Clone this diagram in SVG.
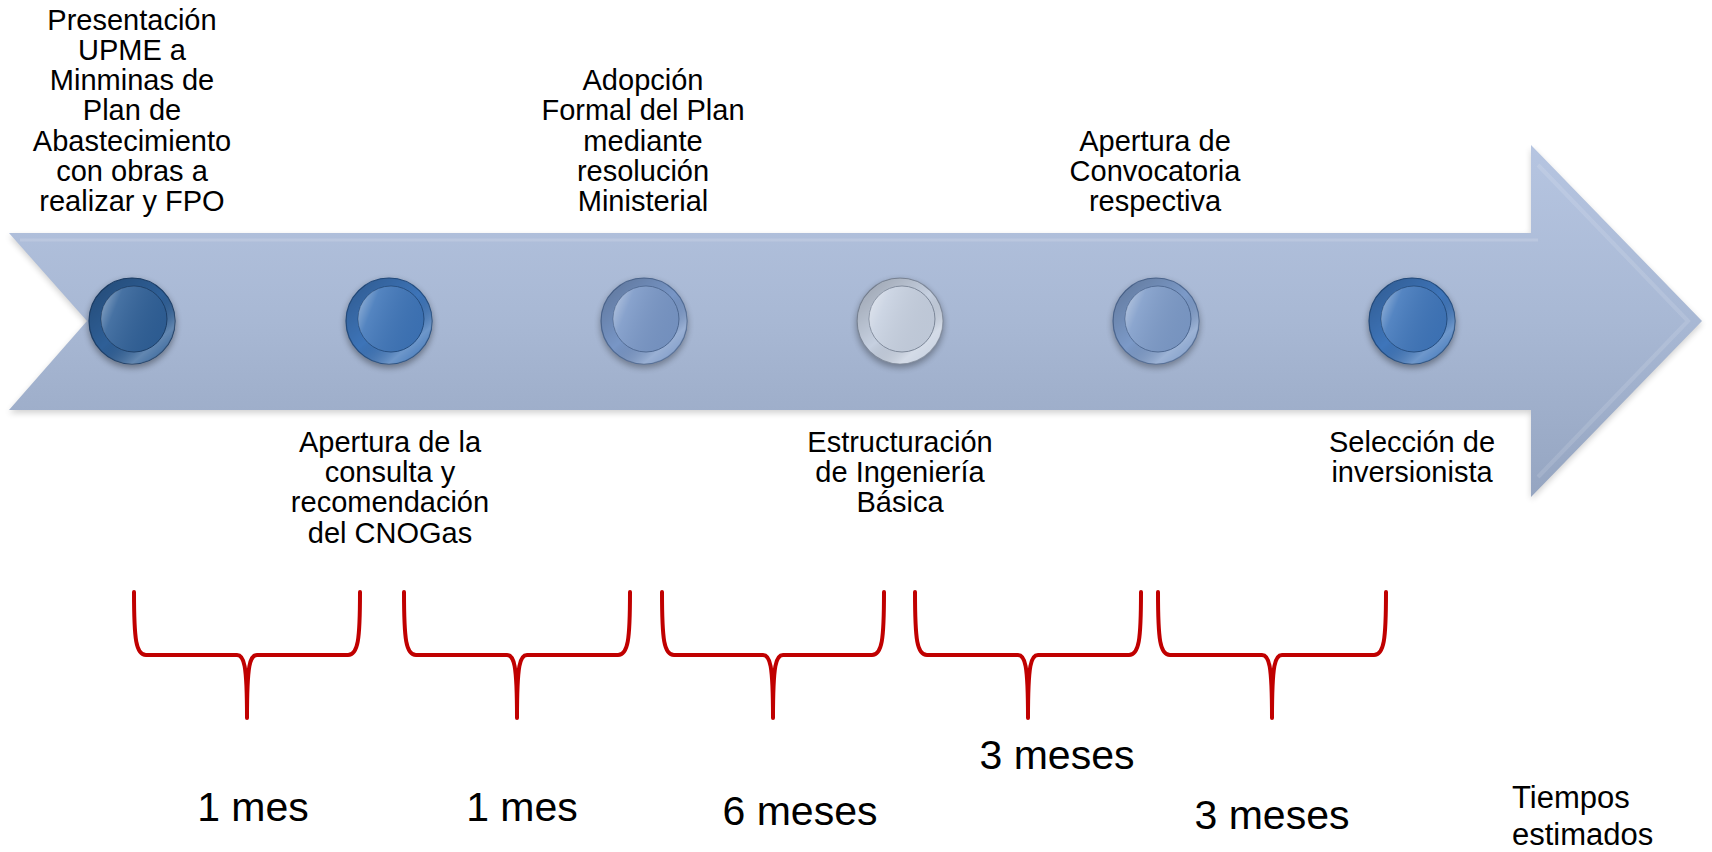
<svg xmlns="http://www.w3.org/2000/svg" width="1712" height="852" viewBox="0 0 1712 852">
  <defs>
    <linearGradient id="arrowFill" x1="0" y1="0" x2="0" y2="1">
      <stop offset="0" stop-color="#B6C5E1"/>
      <stop offset="0.5" stop-color="#A8B8D4"/>
      <stop offset="1" stop-color="#95A5C1"/>
    </linearGradient>
    <linearGradient id="ringShade" x1="0.15" y1="0.1" x2="0.85" y2="0.9">
      <stop offset="0" stop-color="#000" stop-opacity="0.18"/>
      <stop offset="0.5" stop-color="#000" stop-opacity="0"/>
      <stop offset="0.85" stop-color="#fff" stop-opacity="0.25"/>
      <stop offset="1" stop-color="#fff" stop-opacity="0.1"/>
    </linearGradient>
    <linearGradient id="innerShade" x1="0" y1="0.3" x2="1" y2="0.7">
      <stop offset="0" stop-color="#fff" stop-opacity="0.4"/>
      <stop offset="0.2" stop-color="#fff" stop-opacity="0.12"/>
      <stop offset="1" stop-color="#000" stop-opacity="0.04"/>
    </linearGradient>
    <filter id="shadow" x="-30%" y="-30%" width="160%" height="160%">
      <feGaussianBlur stdDeviation="3"/>
    </filter>
    <filter id="arrowShadow" x="-5%" y="-10%" width="110%" height="130%">
      <feGaussianBlur stdDeviation="3"/>
    </filter>
  </defs>
  <style>
    .t { font-family: "Liberation Sans", Arial, sans-serif; fill: #000; text-anchor: middle; }
    .s { font-size: 29px; }
    .b { font-size: 41px; }
    .n { font-size: 31px; text-anchor: start; }
    .brace { fill: none; stroke: #C00000; stroke-width: 4; stroke-linecap: round; stroke-linejoin: round; }
    .rim { stroke-width: 1.2; }
    .c1 { fill: #2E5F97; stroke: #1C3F69; }
    .c2 { fill: #3D74B8; stroke: #244E82; }
    .c3 { fill: #7896C6; stroke: #4F6A94; }
    .c4 { fill: #C6D0E0; stroke: #7F8A9C; }
    .c5 { fill: #7C9AC8; stroke: #4F6A94; }
    .c6 { fill: #3E75BA; stroke: #244E82; }
  </style>

  <rect width="1712" height="852" fill="#fff"/>

  <g id="arrow">
    <polygon points="9,236 1531,236 1531,148 1702,324 1531,500 1531,413 9,413 87,324" fill="#000" opacity="0.18" filter="url(#arrowShadow)"/>
    <polygon points="9,233 1531,233 1531,145 1702,321 1531,497 1531,410 9,410 87,321" fill="url(#arrowFill)"/>
    <polyline points="20,240 1538,240" stroke="#fff" stroke-opacity="0.15" stroke-width="3" fill="none"/>
    <polyline points="1538,165 1688,321 1538,477" stroke="#fff" stroke-opacity="0.12" stroke-width="4" fill="none"/>
  </g>

  <g id="node1">
    <circle cx="132" cy="324" r="44" fill="#000" opacity="0.35" filter="url(#shadow)"/>
    <circle class="c1 rim" cx="132" cy="321" r="43"/>
    <circle cx="132" cy="321" r="43" fill="url(#ringShade)"/>
    <circle class="c1" cx="134" cy="319" r="33" stroke="none"/>
    <circle cx="134" cy="319" r="33" fill="url(#innerShade)"/>
  </g>
  <g id="node2">
    <circle cx="389" cy="324" r="44" fill="#000" opacity="0.35" filter="url(#shadow)"/>
    <circle class="c2 rim" cx="389" cy="321" r="43"/>
    <circle cx="389" cy="321" r="43" fill="url(#ringShade)"/>
    <circle class="c2" cx="391" cy="319" r="33" stroke="none"/>
    <circle cx="391" cy="319" r="33" fill="url(#innerShade)"/>
  </g>
  <g id="node3">
    <circle cx="644" cy="324" r="44" fill="#000" opacity="0.3" filter="url(#shadow)"/>
    <circle class="c3 rim" cx="644" cy="321" r="43"/>
    <circle cx="644" cy="321" r="43" fill="url(#ringShade)"/>
    <circle class="c3" cx="646" cy="319" r="33" stroke="none"/>
    <circle cx="646" cy="319" r="33" fill="url(#innerShade)"/>
  </g>
  <g id="node4">
    <circle cx="900" cy="324" r="44" fill="#000" opacity="0.3" filter="url(#shadow)"/>
    <circle class="c4 rim" cx="900" cy="321" r="43"/>
    <circle cx="900" cy="321" r="43" fill="url(#ringShade)"/>
    <circle class="c4" cx="902" cy="319" r="33" stroke="none"/>
    <circle cx="902" cy="319" r="33" fill="url(#innerShade)"/>
  </g>
  <g id="node5">
    <circle cx="1156" cy="324" r="44" fill="#000" opacity="0.3" filter="url(#shadow)"/>
    <circle class="c5 rim" cx="1156" cy="321" r="43"/>
    <circle cx="1156" cy="321" r="43" fill="url(#ringShade)"/>
    <circle class="c5" cx="1158" cy="319" r="33" stroke="none"/>
    <circle cx="1158" cy="319" r="33" fill="url(#innerShade)"/>
  </g>
  <g id="node6">
    <circle cx="1412" cy="324" r="44" fill="#000" opacity="0.35" filter="url(#shadow)"/>
    <circle class="c6 rim" cx="1412" cy="321" r="43"/>
    <circle cx="1412" cy="321" r="43" fill="url(#ringShade)"/>
    <circle class="c6" cx="1414" cy="319" r="33" stroke="none"/>
    <circle cx="1414" cy="319" r="33" fill="url(#innerShade)"/>
  </g>

  <g id="label1">
    <text class="t s" x="132" y="30">Presentación</text>
    <text class="t s" x="132" y="60">UPME a</text>
    <text class="t s" x="132" y="90">Minminas de</text>
    <text class="t s" x="132" y="120">Plan de</text>
    <text class="t s" x="132" y="151">Abastecimiento</text>
    <text class="t s" x="132" y="181">con obras a</text>
    <text class="t s" x="132" y="211">realizar y FPO</text>
  </g>
  <g id="label2">
    <text class="t s" x="390" y="452">Apertura de la</text>
    <text class="t s" x="390" y="482">consulta y</text>
    <text class="t s" x="390" y="512">recomendación</text>
    <text class="t s" x="390" y="543">del CNOGas</text>
  </g>
  <g id="label3">
    <text class="t s" x="643" y="90">Adopción</text>
    <text class="t s" x="643" y="120">Formal del Plan</text>
    <text class="t s" x="643" y="151">mediante</text>
    <text class="t s" x="643" y="181">resolución</text>
    <text class="t s" x="643" y="211">Ministerial</text>
  </g>
  <g id="label4">
    <text class="t s" x="900" y="452">Estructuración</text>
    <text class="t s" x="900" y="482">de Ingeniería</text>
    <text class="t s" x="900" y="512">Básica</text>
  </g>
  <g id="label5">
    <text class="t s" x="1155" y="151">Apertura de</text>
    <text class="t s" x="1155" y="181">Convocatoria</text>
    <text class="t s" x="1155" y="211">respectiva</text>
  </g>
  <g id="label6">
    <text class="t s" x="1412" y="452">Selección de</text>
    <text class="t s" x="1412" y="482">inversionista</text>
  </g>

  <g id="connectors">
    <path class="brace" d="M134,592 C134,640 136,655 146,655 L237,655 C244,655 247,664 247,718 M360,592 C360,640 358,655 348,655 L257,655 C250,655 247,664 247,718"/>
    <path class="brace" d="M404,592 C404,640 406,655 416,655 L507,655 C514,655 517,664 517,718 M630,592 C630,640 628,655 618,655 L527,655 C520,655 517,664 517,718"/>
    <path class="brace" d="M662,592 C662,640 664,655 674,655 L763,655 C770,655 773,664 773,718 M884,592 C884,640 882,655 872,655 L783,655 C776,655 773,664 773,718"/>
    <path class="brace" d="M915,592 C915,640 917,655 927,655 L1018,655 C1025,655 1028,664 1028,718 M1141,592 C1141,640 1139,655 1129,655 L1038,655 C1031,655 1028,664 1028,718"/>
    <path class="brace" d="M1158,592 C1158,640 1160,655 1170,655 L1262,655 C1269,655 1272,664 1272,718 M1386,592 C1386,640 1384,655 1374,655 L1282,655 C1275,655 1272,664 1272,718"/>
  </g>

  <g id="durations">
    <text class="t b" x="253" y="821">1 mes</text>
    <text class="t b" x="522" y="821">1 mes</text>
    <text class="t b" x="800" y="825">6 meses</text>
    <text class="t b" x="1057" y="769">3 meses</text>
    <text class="t b" x="1272" y="829">3 meses</text>
    <text class="t n" x="1512" y="808">Tiempos</text>
    <text class="t n" x="1512" y="845">estimados</text>
  </g>
</svg>
